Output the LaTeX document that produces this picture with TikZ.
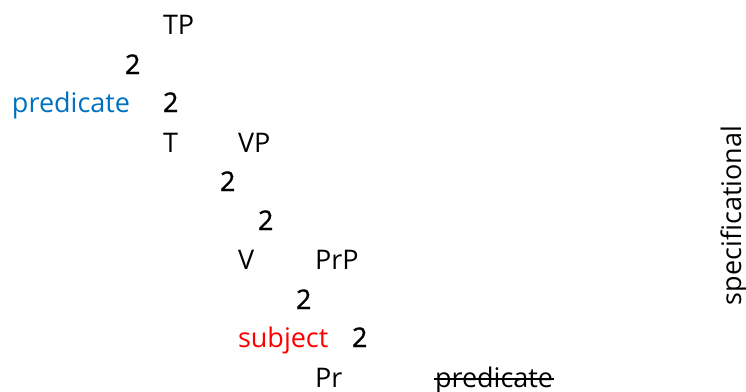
\documentclass[tikz,border=0pt]{standalone}
\usepackage{fontspec}
\setmainfont{Open Sans}
\newfontfamily\twofont[FakeBold=1.2]{Open Sans}
\usepackage{xcolor}
\definecolor{predblue}{HTML}{0070C0}
\definecolor{subjred}{HTML}{FF0000}
\begin{document}
\begin{tikzpicture}[x=1pt,y=1pt,
  lab/.style={anchor=base west,inner sep=0pt,outer sep=0pt,font=\fontsize{27}{32}\selectfont},
  br/.style={lab,font=\fontsize{27}{32}\selectfont\twofont}]
\useasboundingbox (0,0) rectangle (746,-391);
\node[lab] (tp) at (163,-34) {TP};
\node[br] (b1) at (125,-74) {2};
\node[lab,text=predblue] (pred) at (12,-112) {predicate};
\node[br] (b2) at (163,-112) {2};
\node[lab] (t) at (163,-152) {T};
\node[lab] (vp) at (238,-152) {VP};
\node[br] (b3) at (220,-191) {2};
\node[br] (b4) at (258,-230) {2};
\node[lab] (v) at (238,-269) {V};
\node[lab] (prp) at (315,-269) {PrP};
\node[br] (b5) at (296,-309) {2};
\node[lab,text=subjred] (subj) at (238,-347) {subject};
\node[br] (b6) at (352,-347) {2};
\node[lab] (pr) at (315,-387) {Pr};
\node[lab] (pred2) at (435,-387) {predicate};
\draw[line width=1.8pt] ([xshift=-1pt,yshift=8pt]pred2.base west) -- ([xshift=1pt,yshift=8pt]pred2.base east);
\node[lab,rotate=90] (spec) at (741,-305) {specificational};
\end{tikzpicture}
\end{document}
